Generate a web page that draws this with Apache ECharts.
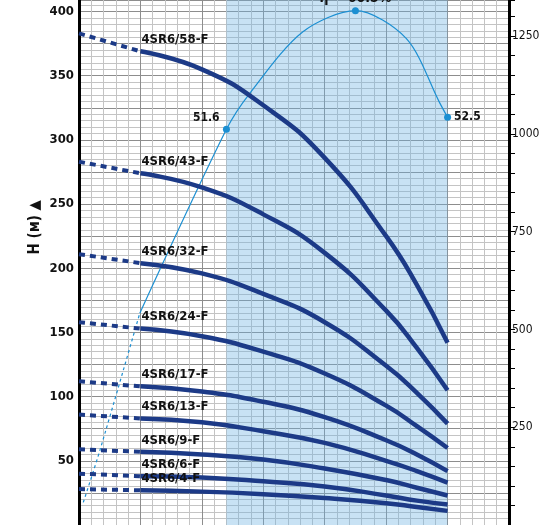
<!DOCTYPE html>
<html><head><meta charset="utf-8">
<script src="https://cdn.jsdelivr.net/npm/echarts@6/dist/echarts.min.js"></script>
<style>html,body{margin:0;padding:0;background:#fff}#c{width:555px;height:525px}</style>
</head><body><div id="c"></div>
<script>
const pumpNames = ['4SR6/58-F','4SR6/43-F','4SR6/32-F','4SR6/24-F','4SR6/17-F','4SR6/13-F','4SR6/9-F','4SR6/6-F','4SR6/4-F'];
const flowX = [0,1,2,3,4,5,5.5,6];
const headValues = [
  [383,369,355,327,286,225,187,142],
  [283,274,263,242,212,167,138,105],
  [211,204,196,180,158,124,103,79],
  [158,153,147,135,118,93,77,60],
  [112,108,104,96,84,66,55,42],
  [86,83,80,73,64,50,42,33],
  [59,57,55,51,44,35,29,23],
  [40,38,37,34,30,23,19,16],
  [28,27,26,24,21,17,14,11]
];
const effX = [0.07,0.34,0.99,2.4,2.78,3.64,4.5,5.33,5.87,6.0];
const effValues = [23.6,27.5,37.8,51.6,54.3,58.9,60.5,58.4,53.6,52.5];
const effLabels = {3:'51.6',6:'η = 60.5%',9:'52.5'};
const shadeRange = [2.4,6];

const FONT = 'DejaVu Sans Condensed';
const navy = '#1c3a87', blue = '#1b8fd2';
const series = [];
headValues.forEach((vals,i)=>{
  const dashed = [[flowX[0],vals[0]],[flowX[1],vals[1]]];
  const solid = flowX.slice(1).map((x,j)=>[x,vals[j+1]]);
  series.push({type:'line',data:dashed,symbol:'none',z:5,
    lineStyle:{color:navy,width:4,type:[6,5]}});
  series.push({type:'line',data:solid,symbol:'circle',symbolSize:0.1,showSymbol:true,smooth:true,z:5,
    itemStyle:{color:navy},
    lineStyle:{color:navy,width:4.5},
    label:{show:true,position:[1,-18],formatter:p=>p.dataIndex===0?pumpNames[i]:'',
      fontFamily:FONT,fontWeight:'bold',fontSize:13,color:'#111'},
    labelLayout:{hideOverlap:false}});
});
series[0].markArea = {silent:true,itemStyle:{color:'rgba(110,180,225,0.38)'},
  data:[[{xAxis:shadeRange[0]},{xAxis:shadeRange[1]}]]};
const effDash = effX.slice(0,3).map((x,j)=>[x,effValues[j]]);
const effSolid = effX.slice(2).map((x,j)=>{
  const k=j+2, d=[x,effValues[k]];
  if(k===3) return {value:d,symbol:'circle',symbolSize:7,label:{show:true,formatter:effLabels[k],position:[-30,-14]}};
  if(k===6) return {value:d,symbol:'circle',symbolSize:7,label:{show:true,formatter:effLabels[k],position:'top',fontSize:14,distance:2}};
  if(k===9) return {value:d,symbol:'circle',symbolSize:7,label:{show:true,formatter:effLabels[k],position:'right',distance:3}};
  return {value:d,symbol:'none'};
});
series.push({type:'line',yAxisIndex:2,data:effDash,smooth:0.3,symbol:'none',z:4,
  lineStyle:{color:blue,width:1.2,type:[3,3]}});
series.push({type:'line',yAxisIndex:2,data:effSolid,smooth:0.3,z:4,showSymbol:true,
  itemStyle:{color:blue},lineStyle:{color:blue,width:1.2},
  label:{show:false,fontFamily:FONT,fontWeight:'bold',fontSize:12,color:'#111'}});

const chart = echarts.init(document.getElementById('c'));
chart.setOption({
  animation:false,
  grid:{left:79,right:46,top:0,height:548,containLabel:false},
  graphic:[{type:'text',left:28,top:200,rotation:Math.PI/2,
    style:{text:'H (м) ▲',fontFamily:FONT,fontWeight:'bold',fontSize:15,fill:'#111'}}],
  xAxis:{type:'value',min:0,max:7,interval:1,axisLabel:{show:false},axisTick:{show:false},
    axisLine:{show:false},
    splitLine:{lineStyle:{color:'#8d8d8d',width:1}},
    minorTick:{show:false,splitNumber:5},minorSplitLine:{show:true,lineStyle:{color:'#c4c4c4',width:1}}},
  yAxis:[
    {type:'value',min:0,max:409,interval:25,position:'left',
      axisLine:{show:true,lineStyle:{color:'#000',width:3}},axisTick:{show:false},
      axisLabel:{formatter:v=>v%50===0&&v>0?v:'',fontFamily:FONT,fontWeight:'bold',fontSize:13,color:'#111',margin:5},
      splitLine:{lineStyle:{color:'#8d8d8d',width:1}},
      minorTick:{show:false,splitNumber:5},minorSplitLine:{show:true,lineStyle:{color:'#c4c4c4',width:1}}},
    {type:'value',min:0,max:1342,interval:50,position:'right',
      axisLine:{show:true,lineStyle:{color:'#000',width:3}},
      axisTick:{show:true,inside:false,length:6,lineStyle:{color:'#000',width:1}},
      axisLabel:{formatter:v=>v%250===0&&v>0?v:'',fontFamily:FONT,fontSize:12,color:'#111',margin:3},
      splitLine:{show:false}},
    {type:'value',min:21.9,max:61.3,show:false}
  ],
  series
});
</script></body></html>
